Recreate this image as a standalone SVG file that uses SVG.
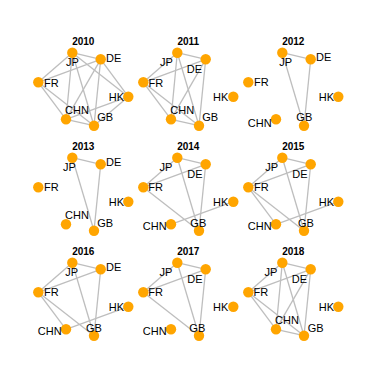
<svg xmlns="http://www.w3.org/2000/svg" xmlns:xlink="http://www.w3.org/1999/xlink" width="374" height="374" viewBox="0 0 374 374">
<style>
.bg{fill:#ffffff}
.e{stroke:#bebebe;stroke-width:1.3;fill:none}
.n{fill:#ffa500}
.l{font-family:"Liberation Sans",Arial,Helvetica,sans-serif;font-size:11px;fill:#000}
.m{text-anchor:middle}
.s{text-anchor:start}
.r{text-anchor:end}
.t{font-family:"Liberation Sans",Arial,Helvetica,sans-serif;font-size:10px;font-weight:bold;fill:#000;text-anchor:middle}
</style>
<defs>
<line id="JP-DE" x1="72.3" y1="52.7" x2="100.7" y2="59.3"/>
<line id="JP-FR" x1="72.3" y1="52.7" x2="38.3" y2="82.3"/>
<line id="JP-HK" x1="72.3" y1="52.7" x2="128.3" y2="96.7"/>
<line id="JP-CHN" x1="72.3" y1="52.7" x2="66" y2="119.3"/>
<line id="JP-GB" x1="72.3" y1="52.7" x2="94" y2="125.7"/>
<line id="DE-FR" x1="100.7" y1="59.3" x2="38.3" y2="82.3"/>
<line id="DE-HK" x1="100.7" y1="59.3" x2="128.3" y2="96.7"/>
<line id="DE-CHN" x1="100.7" y1="59.3" x2="66" y2="119.3"/>
<line id="DE-GB" x1="100.7" y1="59.3" x2="94" y2="125.7"/>
<line id="FR-CHN" x1="38.3" y1="82.3" x2="66" y2="119.3"/>
<line id="FR-GB" x1="38.3" y1="82.3" x2="94" y2="125.7"/>
<line id="HK-CHN" x1="128.3" y1="96.7" x2="66" y2="119.3"/>
<line id="HK-GB" x1="128.3" y1="96.7" x2="94" y2="125.7"/>
<line id="CHN-GB" x1="66" y1="119.3" x2="94" y2="125.7"/>
</defs>
<rect class="bg" width="374" height="374"/>

<!-- 2010 -->
<g id="p2010">
<text class="t" x="83.3" y="44.5">2010</text>
<g id="edges2010" class="e">
<use xlink:href="#JP-DE"/><use xlink:href="#JP-FR"/><use xlink:href="#JP-HK"/><use xlink:href="#JP-CHN"/><use xlink:href="#JP-GB"/>
<use xlink:href="#DE-FR"/><use xlink:href="#DE-HK"/><use xlink:href="#DE-CHN"/><use xlink:href="#DE-GB"/>
<use xlink:href="#FR-CHN"/><use xlink:href="#FR-GB"/><use xlink:href="#HK-CHN"/><use xlink:href="#HK-GB"/><use xlink:href="#CHN-GB"/>
</g>
<g id="n2010-JP"><circle class="n" cx="72.3" cy="52.7" r="5.2"/><text class="l m" x="72.5" y="65.7">JP</text></g>
<g id="n2010-DE"><circle class="n" cx="100.7" cy="59.3" r="5.2"/><text class="l s" x="106" y="61.5">DE</text></g>
<g id="n2010-FR"><circle class="n" cx="38.3" cy="82.3" r="5.2"/><text class="l s" x="44" y="87.3">FR</text></g>
<g id="n2010-HK"><circle class="n" cx="128.3" cy="96.7" r="5.2"/><text class="l r" x="124" y="101">HK</text></g>
<g id="n2010-CHN"><circle class="n" cx="66" cy="119.3" r="5.2"/><text class="l s" x="65" y="113.5">CHN</text></g>
<g id="n2010-GB"><circle class="n" cx="94" cy="125.7" r="5.2"/><text class="l s" x="97.3" y="121">GB</text></g>
</g>

<!-- 2011 -->
<g id="p2011" transform="translate(105,0)">
<text class="t" x="83.3" y="44.5">2011</text>
<g id="edges2011" class="e">
<use xlink:href="#JP-DE"/><use xlink:href="#JP-FR"/><use xlink:href="#JP-CHN"/><use xlink:href="#JP-GB"/>
<use xlink:href="#DE-FR"/><use xlink:href="#DE-CHN"/><use xlink:href="#DE-GB"/>
<use xlink:href="#FR-CHN"/><use xlink:href="#FR-GB"/><use xlink:href="#CHN-GB"/>
</g>
<g id="n2011-JP"><circle class="n" cx="72.3" cy="52.7" r="5.2"/><text class="l m" x="61.5" y="65.7">JP</text></g>
<g id="n2011-DE"><circle class="n" cx="100.7" cy="59.3" r="5.2"/><text class="l m" x="89.5" y="73.2">DE</text></g>
<g id="n2011-FR"><circle class="n" cx="38.3" cy="82.3" r="5.2"/><text class="l s" x="43.5" y="87.3">FR</text></g>
<g id="n2011-HK"><circle class="n" cx="128.3" cy="96.7" r="5.2"/><text class="l r" x="123.3" y="100.7">HK</text></g>
<g id="n2011-CHN"><circle class="n" cx="66" cy="119.3" r="5.2"/><text class="l s" x="65.3" y="113.5">CHN</text></g>
<g id="n2011-GB"><circle class="n" cx="94" cy="125.7" r="5.2"/><text class="l s" x="97.3" y="121">GB</text></g>
</g>

<!-- 2012 -->
<g id="p2012" transform="translate(210,0)">
<text class="t" x="83.3" y="44.5">2012</text>
<g id="edges2012" class="e">
<use xlink:href="#JP-DE"/><use xlink:href="#JP-GB"/><use xlink:href="#DE-GB"/>
</g>
<g id="n2012-JP"><circle class="n" cx="72.3" cy="52.7" r="5.2"/><text class="l m" x="75.7" y="66.3">JP</text></g>
<g id="n2012-DE"><circle class="n" cx="100.7" cy="59.3" r="5.2"/><text class="l s" x="106" y="61.3">DE</text></g>
<g id="n2012-FR"><circle class="n" cx="38.3" cy="82.3" r="5.2"/><text class="l s" x="44" y="86.3">FR</text></g>
<g id="n2012-HK"><circle class="n" cx="128.3" cy="96.7" r="5.2"/><text class="l r" x="124" y="100.7">HK</text></g>
<g id="n2012-CHN"><circle class="n" cx="66" cy="119.3" r="5.2"/><text class="l r" x="61.7" y="126.7">CHN</text></g>
<g id="n2012-GB"><circle class="n" cx="94" cy="125.7" r="5.2"/><text class="l m" x="94.3" y="120.7">GB</text></g>
</g>

<!-- 2013 -->
<g id="p2013" transform="translate(0,105)">
<text class="t" x="83.3" y="44.5">2013</text>
<g id="edges2013" class="e">
<use xlink:href="#JP-DE"/><use xlink:href="#JP-GB"/><use xlink:href="#DE-GB"/>
</g>
<g id="n2013-JP"><circle class="n" cx="72.3" cy="52.7" r="5.2"/><text class="l m" x="69.5" y="66.3">JP</text></g>
<g id="n2013-DE"><circle class="n" cx="100.7" cy="59.3" r="5.2"/><text class="l s" x="106" y="61.3">DE</text></g>
<g id="n2013-FR"><circle class="n" cx="38.3" cy="82.3" r="5.2"/><text class="l s" x="44" y="86.3">FR</text></g>
<g id="n2013-HK"><circle class="n" cx="128.3" cy="96.7" r="5.2"/><text class="l r" x="124" y="100.7">HK</text></g>
<g id="n2013-CHN"><circle class="n" cx="66" cy="119.3" r="5.2"/><text class="l s" x="65" y="114">CHN</text></g>
<g id="n2013-GB"><circle class="n" cx="94" cy="125.7" r="5.2"/><text class="l s" x="97.3" y="121.7">GB</text></g>
</g>

<!-- 2014 -->
<g id="p2014" transform="translate(105,105)">
<text class="t" x="83.3" y="44.5">2014</text>
<g id="edges2014" class="e">
<use xlink:href="#JP-DE"/><use xlink:href="#JP-FR"/><use xlink:href="#JP-GB"/>
<use xlink:href="#DE-FR"/><use xlink:href="#DE-GB"/><use xlink:href="#FR-GB"/><use xlink:href="#HK-CHN"/>
</g>
<g id="n2014-JP"><circle class="n" cx="72.3" cy="52.7" r="5.2"/><text class="l m" x="61" y="66.3">JP</text></g>
<g id="n2014-DE"><circle class="n" cx="100.7" cy="59.3" r="5.2"/><text class="l m" x="90" y="73.3">DE</text></g>
<g id="n2014-FR"><circle class="n" cx="38.3" cy="82.3" r="5.2"/><text class="l s" x="43.3" y="86.3">FR</text></g>
<g id="n2014-HK"><circle class="n" cx="128.3" cy="96.7" r="5.2"/><text class="l r" x="123.3" y="100.7">HK</text></g>
<g id="n2014-CHN"><circle class="n" cx="66" cy="119.3" r="5.2"/><text class="l r" x="61.7" y="124.7">CHN</text></g>
<g id="n2014-GB"><circle class="n" cx="94" cy="125.7" r="5.2"/><text class="l m" x="93.3" y="121.7">GB</text></g>
</g>

<!-- 2015 -->
<g id="p2015" transform="translate(210,105)">
<text class="t" x="83.3" y="44.5">2015</text>
<g id="edges2015" class="e">
<use xlink:href="#JP-DE"/><use xlink:href="#JP-FR"/><use xlink:href="#JP-GB"/>
<use xlink:href="#DE-FR"/><use xlink:href="#DE-GB"/><use xlink:href="#FR-CHN"/><use xlink:href="#FR-GB"/><use xlink:href="#HK-CHN"/>
</g>
<g id="n2015-JP"><circle class="n" cx="72.3" cy="52.7" r="5.2"/><text class="l m" x="61.7" y="66.3">JP</text></g>
<g id="n2015-DE"><circle class="n" cx="100.7" cy="59.3" r="5.2"/><text class="l m" x="90" y="73.3">DE</text></g>
<g id="n2015-FR"><circle class="n" cx="38.3" cy="82.3" r="5.2"/><text class="l s" x="44" y="86.3">FR</text></g>
<g id="n2015-HK"><circle class="n" cx="128.3" cy="96.7" r="5.2"/><text class="l r" x="124" y="100.7">HK</text></g>
<g id="n2015-CHN"><circle class="n" cx="66" cy="119.3" r="5.2"/><text class="l r" x="61.7" y="124.7">CHN</text></g>
<g id="n2015-GB"><circle class="n" cx="94" cy="125.7" r="5.2"/><text class="l m" x="96" y="121.7">GB</text></g>
</g>

<!-- 2016 -->
<g id="p2016" transform="translate(0,210)">
<text class="t" x="83.3" y="44.5">2016</text>
<g id="edges2016" class="e">
<use xlink:href="#JP-DE"/><use xlink:href="#JP-FR"/><use xlink:href="#JP-GB"/>
<use xlink:href="#DE-FR"/><use xlink:href="#DE-GB"/><use xlink:href="#FR-CHN"/><use xlink:href="#FR-GB"/><use xlink:href="#HK-CHN"/>
</g>
<g id="n2016-JP"><circle class="n" cx="72.3" cy="52.7" r="5.2"/><text class="l m" x="71.7" y="66.3">JP</text></g>
<g id="n2016-DE"><circle class="n" cx="100.7" cy="59.3" r="5.2"/><text class="l s" x="106" y="61.3">DE</text></g>
<g id="n2016-FR"><circle class="n" cx="38.3" cy="82.3" r="5.2"/><text class="l s" x="44" y="86.3">FR</text></g>
<g id="n2016-HK"><circle class="n" cx="128.3" cy="96.7" r="5.2"/><text class="l r" x="124" y="100.7">HK</text></g>
<g id="n2016-CHN"><circle class="n" cx="66" cy="119.3" r="5.2"/><text class="l r" x="61.7" y="124.7">CHN</text></g>
<g id="n2016-GB"><circle class="n" cx="94" cy="125.7" r="5.2"/><text class="l m" x="94" y="121.7">GB</text></g>
</g>

<!-- 2017 -->
<g id="p2017" transform="translate(105,210)">
<text class="t" x="83.3" y="44.5">2017</text>
<g id="edges2017" class="e">
<use xlink:href="#JP-DE"/><use xlink:href="#JP-FR"/><use xlink:href="#JP-GB"/>
<use xlink:href="#DE-FR"/><use xlink:href="#DE-GB"/><use xlink:href="#FR-GB"/>
</g>
<g id="n2017-JP"><circle class="n" cx="72.3" cy="52.7" r="5.2"/><text class="l m" x="61" y="66.3">JP</text></g>
<g id="n2017-DE"><circle class="n" cx="100.7" cy="59.3" r="5.2"/><text class="l m" x="90" y="73.3">DE</text></g>
<g id="n2017-FR"><circle class="n" cx="38.3" cy="82.3" r="5.2"/><text class="l s" x="43.3" y="86.3">FR</text></g>
<g id="n2017-HK"><circle class="n" cx="128.3" cy="96.7" r="5.2"/><text class="l r" x="123.3" y="100.7">HK</text></g>
<g id="n2017-CHN"><circle class="n" cx="66" cy="119.3" r="5.2"/><text class="l r" x="61.7" y="124.7">CHN</text></g>
<g id="n2017-GB"><circle class="n" cx="94" cy="125.7" r="5.2"/><text class="l m" x="92.3" y="121.7">GB</text></g>
</g>

<!-- 2018 -->
<g id="p2018" transform="translate(210,210)">
<text class="t" x="83.3" y="44.5">2018</text>
<g id="edges2018" class="e">
<use xlink:href="#JP-DE"/><use xlink:href="#JP-FR"/><use xlink:href="#JP-CHN"/><use xlink:href="#JP-GB"/>
<use xlink:href="#DE-FR"/><use xlink:href="#DE-CHN"/><use xlink:href="#DE-GB"/>
<use xlink:href="#FR-CHN"/><use xlink:href="#FR-GB"/><use xlink:href="#CHN-GB"/>
</g>
<g id="n2018-JP"><circle class="n" cx="72.3" cy="52.7" r="5.2"/><text class="l m" x="61" y="65.7">JP</text></g>
<g id="n2018-DE"><circle class="n" cx="100.7" cy="59.3" r="5.2"/><text class="l m" x="89.5" y="73.3">DE</text></g>
<g id="n2018-FR"><circle class="n" cx="38.3" cy="82.3" r="5.2"/><text class="l s" x="43.5" y="86.3">FR</text></g>
<g id="n2018-HK"><circle class="n" cx="128.3" cy="96.7" r="5.2"/><text class="l r" x="124" y="100.7">HK</text></g>
<g id="n2018-CHN"><circle class="n" cx="66" cy="119.3" r="5.2"/><text class="l s" x="65" y="114">CHN</text></g>
<g id="n2018-GB"><circle class="n" cx="94" cy="125.7" r="5.2"/><text class="l s" x="97.7" y="121.7">GB</text></g>
</g>
</svg>
